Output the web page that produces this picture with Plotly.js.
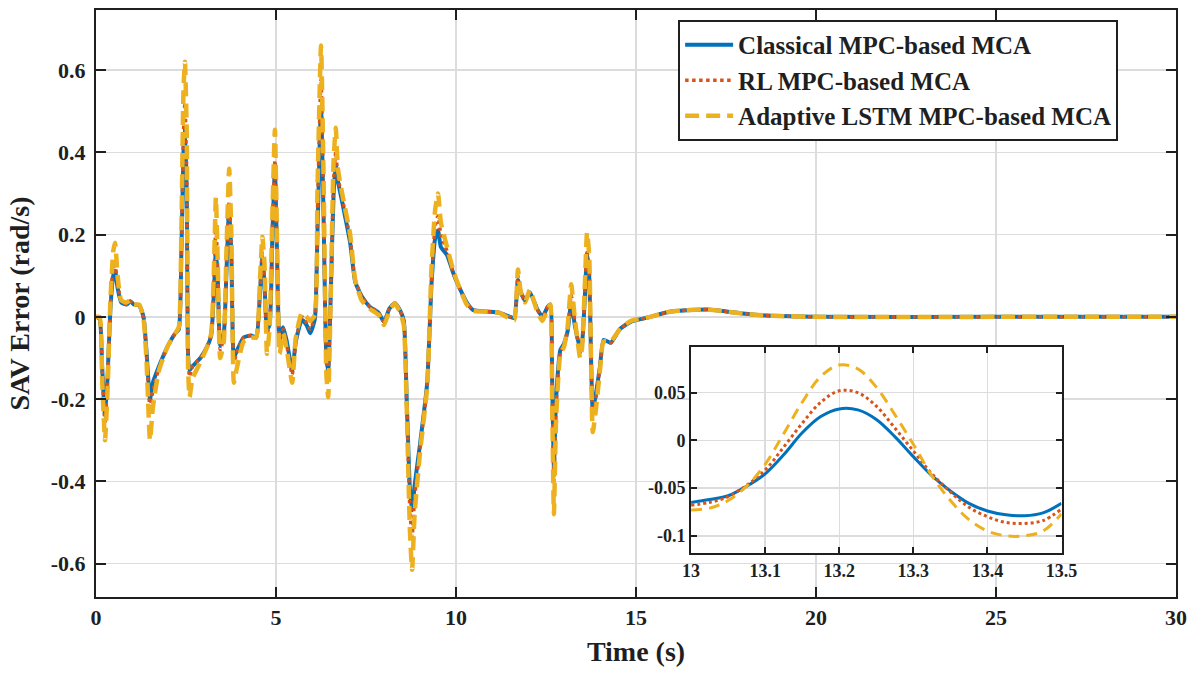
<!DOCTYPE html>
<html>
<head>
<meta charset="utf-8">
<script src="https://cdn.plot.ly/plotly-3.0.1.min.js"></script>
<style>
  html, body { margin: 0; padding: 0; background: #ffffff; }
  #chart { width: 1196px; height: 680px; }
</style>
</head>
<body>
<div id="chart"></div>
<script>
// Time base (s) shared by the three SAV error series
const time = [
  0.00, 0.10, 0.17, 0.25, 0.32, 0.40, 0.48, 0.53, 0.60, 0.70,
  0.85, 0.95, 1.05, 1.20, 1.32, 1.40, 1.50, 1.58, 1.75, 2.00,
  2.20, 2.30, 2.37, 2.43, 2.47, 2.52, 2.56, 2.60, 2.68, 2.90,
  3.10, 3.20, 3.27, 3.33, 3.38, 3.45, 3.55, 3.62, 3.70, 3.76,
  3.83, 3.90, 4.10, 4.30, 4.45, 4.55, 4.62, 4.68, 4.75, 4.82,
  4.90, 4.97, 5.03, 5.10, 5.20, 5.30, 5.45, 5.55, 5.72, 5.85,
  5.95, 6.08, 6.15, 6.25, 6.32, 6.40, 6.45, 6.52, 6.60, 6.66,
  6.72, 6.86, 7.06, 7.20, 7.38, 7.60, 7.85, 8.00, 8.15, 8.30,
  8.45, 8.55, 8.63, 8.72, 8.78, 8.85, 9.00, 9.20, 9.32, 9.42,
  9.50, 9.58, 9.75, 9.95, 10.10, 10.30, 10.47, 10.85, 11.20, 11.50,
  11.62, 11.72, 11.80, 11.92, 12.05, 12.25, 12.40, 12.55, 12.62, 12.67,
  12.72, 12.78, 12.90, 13.00, 13.10, 13.20, 13.30, 13.45, 13.50, 13.58,
  13.64, 13.70, 13.80, 13.88, 14.00, 14.10, 14.30, 14.55, 14.85, 15.40,
  15.90, 16.40, 17.00, 17.60, 18.30, 19.00, 20.00, 25.00, 30.00
];

// Classical MPC-based MCA (rad/s)
const classicalErr = [
  0.000, -0.005, -0.120, -0.240, -0.150, 0.020, 0.100, 0.112, 0.070, 0.035,
  0.030, 0.038, 0.030, 0.028, 0.000, -0.080, -0.200, -0.160, -0.120, -0.070,
  -0.040, -0.030, 0.150, 0.400, 0.460, 0.300, -0.100, -0.130, -0.120, -0.100,
  -0.070, -0.045, 0.050, 0.160, 0.100, -0.070, -0.040, 0.100, 0.270, 0.150,
  -0.100, -0.085, -0.050, -0.045, -0.050, 0.050, 0.145, 0.080, -0.030, -0.020,
  0.200, 0.360, 0.150, -0.055, -0.025, -0.060, -0.130, -0.060, -0.007, -0.020,
  -0.040, -0.005, 0.200, 0.510, 0.250, -0.100, -0.130, 0.050, 0.300, 0.370,
  0.330, 0.270, 0.180, 0.085, 0.050, 0.025, 0.010, -0.012, 0.020, 0.033,
  0.015, -0.010, -0.200, -0.420, -0.470, -0.410, -0.310, -0.160, 0.080, 0.190,
  0.210, 0.170, 0.150, 0.100, 0.070, 0.035, 0.017, 0.013, 0.010, 0.000,
  -0.003, 0.090, 0.060, 0.040, 0.060, 0.020, 0.000, 0.025, 0.030, -0.150,
  -0.365, -0.200, -0.080, -0.065, -0.035, 0.033, -0.020, -0.079, -0.066, 0.050,
  0.155, 0.100, -0.225, -0.190, -0.120, -0.056, -0.063, -0.030, -0.012, 0.000,
  0.012, 0.016, 0.018, 0.012, 0.005, 0.002, 0.000, 0.000, 0.000
];

// RL MPC-based MCA (rad/s)
const rlErr = [
  0.000, -0.005, -0.130, -0.260, -0.160, 0.030, 0.120, 0.125, 0.080, 0.040,
  0.030, 0.038, 0.030, 0.028, -0.005, -0.090, -0.220, -0.180, -0.125, -0.070,
  -0.040, -0.030, 0.160, 0.450, 0.520, 0.350, -0.110, -0.145, -0.120, -0.100,
  -0.070, -0.045, 0.070, 0.225, 0.120, -0.080, -0.050, 0.120, 0.280, 0.160,
  -0.110, -0.090, -0.050, -0.045, -0.050, 0.060, 0.155, 0.090, -0.040, -0.020,
  0.220, 0.380, 0.160, -0.060, -0.030, -0.070, -0.140, -0.060, 0.000, -0.015,
  -0.030, 0.000, 0.250, 0.580, 0.280, -0.110, -0.140, 0.060, 0.330, 0.400,
  0.340, 0.280, 0.190, 0.090, 0.050, 0.025, 0.010, -0.012, 0.020, 0.033,
  0.015, -0.010, -0.210, -0.470, -0.535, -0.440, -0.320, -0.165, 0.090, 0.220,
  0.245, 0.200, 0.160, 0.100, 0.070, 0.035, 0.017, 0.013, 0.010, 0.000,
  -0.005, 0.100, 0.060, 0.040, 0.060, 0.020, -0.005, 0.025, 0.030, -0.170,
  -0.400, -0.220, -0.085, -0.068, -0.031, 0.053, -0.010, -0.087, -0.072, 0.060,
  0.160, 0.120, -0.240, -0.200, -0.120, -0.060, -0.063, -0.030, -0.012, 0.000,
  0.012, 0.016, 0.018, 0.012, 0.005, 0.002, 0.000, 0.000, 0.000
];

// Adaptive LSTM MPC-based MCA (rad/s)
const lstmErr = [
  0.000, 0.000, -0.150, -0.300, -0.180, 0.040, 0.160, 0.180, 0.100, 0.040,
  0.035, 0.040, 0.030, 0.030, -0.005, -0.100, -0.300, -0.220, -0.130, -0.070,
  -0.040, -0.025, 0.200, 0.550, 0.620, 0.450, -0.130, -0.195, -0.150, -0.110,
  -0.070, -0.040, 0.100, 0.290, 0.140, -0.100, -0.060, 0.150, 0.360, 0.200,
  -0.160, -0.130, -0.060, -0.050, -0.050, 0.080, 0.195, 0.130, -0.090, -0.030,
  0.250, 0.455, 0.180, -0.090, -0.040, -0.080, -0.160, -0.050, 0.010, 0.000,
  -0.010, 0.005, 0.300, 0.660, 0.350, -0.140, -0.195, 0.050, 0.380, 0.460,
  0.360, 0.290, 0.200, 0.090, 0.040, 0.020, 0.005, -0.020, 0.015, 0.033,
  0.010, -0.020, -0.220, -0.520, -0.615, -0.480, -0.330, -0.170, 0.120, 0.260,
  0.300, 0.230, 0.170, 0.105, 0.070, 0.030, 0.015, 0.013, 0.010, -0.005,
  -0.008, 0.115, 0.060, 0.035, 0.065, 0.015, -0.010, 0.020, 0.030, -0.200,
  -0.480, -0.250, -0.090, -0.073, -0.024, 0.079, -0.003, -0.100, -0.077, 0.080,
  0.205, 0.150, -0.280, -0.230, -0.130, -0.060, -0.060, -0.030, -0.010, 0.000,
  0.012, 0.016, 0.018, 0.012, 0.005, 0.002, 0.000, 0.000, 0.000
];

// Close-up window 13.0 - 13.5 s
const zoomTime = [
  13.000, 13.025, 13.050, 13.075, 13.100, 13.125, 13.150, 13.175, 13.200, 13.225,
  13.250, 13.275, 13.300, 13.325, 13.350, 13.375, 13.400, 13.425, 13.450, 13.475, 13.500
];
const zoomClassical = [
  -0.065, -0.062, -0.058, -0.048, -0.035, -0.015, 0.008, 0.025, 0.033, 0.032,
  0.022, 0.004, -0.017, -0.037, -0.053, -0.066, -0.074, -0.078, -0.079, -0.076, -0.066
];
const zoomRl = [
  -0.068, -0.065, -0.059, -0.047, -0.031, -0.007, 0.018, 0.040, 0.052, 0.050,
  0.036, 0.013, -0.011, -0.035, -0.054, -0.070, -0.080, -0.086, -0.087, -0.084, -0.072
];
const zoomLstm = [
  -0.073, -0.071, -0.063, -0.048, -0.025, 0.007, 0.040, 0.067, 0.079, 0.075,
  0.056, 0.027, -0.004, -0.037, -0.063, -0.083, -0.095, -0.100, -0.100, -0.095, -0.077
];

const seriesNames = ['Classical MPC-based MCA', 'RL MPC-based MCA', 'Adaptive LSTM MPC-based MCA'];

const mainTickVals = [-0.6, -0.4, -0.2, 0, 0.2, 0.4, 0.6];
const mainTickText = ['-0.6', '-0.4', '-0.2', '0', '0.2', '0.4', '0.6'];
const zoomYTickVals = [-0.1, -0.05, 0, 0.05];
const zoomYTickText = ['-0.1', '-0.05', '0', '0.05'];
const zoomXTickVals = [13, 13.1, 13.2, 13.3, 13.4, 13.5];
const zoomXTickText = ['13', '13.1', '13.2', '13.3', '13.4', '13.5'];

const BLUE = '#0072BD', ORANGE = '#D95319', GOLD = '#EDB120';
const INK = '#1f1f1f', GRID = '#dcdcdc';
const FONT = '"Liberation Serif"';

const traces = [
  { x: time, y: classicalErr, name: seriesNames[0], type: 'scatter', mode: 'lines',
    line: { color: BLUE, width: 4, shape: 'spline', smoothing: 0.5 } },
  { x: time, y: rlErr, name: seriesNames[1], type: 'scatter', mode: 'lines',
    line: { color: ORANGE, width: 3.5, dash: 'dot', shape: 'spline', smoothing: 0.5 } },
  { x: time, y: lstmErr, name: seriesNames[2], type: 'scatter', mode: 'lines',
    line: { color: GOLD, width: 4.5, dash: '14px,7px', shape: 'spline', smoothing: 0.5 } },
  { x: zoomTime, y: zoomClassical, xaxis: 'x2', yaxis: 'y2', showlegend: false, type: 'scatter', mode: 'lines',
    line: { color: BLUE, width: 3, shape: 'spline', smoothing: 1 } },
  { x: zoomTime, y: zoomRl, xaxis: 'x2', yaxis: 'y2', showlegend: false, type: 'scatter', mode: 'lines',
    line: { color: ORANGE, width: 3, dash: 'dot', shape: 'spline', smoothing: 1 } },
  { x: zoomTime, y: zoomLstm, xaxis: 'x2', yaxis: 'y2', showlegend: false, type: 'scatter', mode: 'lines',
    line: { color: GOLD, width: 3, dash: '11px,7px', shape: 'spline', smoothing: 1 } }
];

const boxAxis = {
  showline: true, linecolor: INK, linewidth: 2, mirror: 'ticks',
  ticks: 'inside', tickcolor: INK, tickwidth: 2,
  showgrid: true, gridcolor: GRID, gridwidth: 1.5, zeroline: false
};

const layout = {
  width: 1196, height: 680,
  margin: { l: 96, r: 20, t: 10, b: 83 },
  paper_bgcolor: '#ffffff', plot_bgcolor: '#ffffff',
  font: { family: FONT, weight: 'bold', color: INK, size: 22 },
  showlegend: true,
  legend: {
    x: 0.539, y: 0.983, xanchor: 'left', yanchor: 'top',
    bgcolor: '#ffffff', bordercolor: INK, borderwidth: 2,
    font: { family: FONT, weight: 'bold', size: 25, color: INK },
    itemwidth: 48, tracegroupgap: 0
  },
  xaxis: Object.assign({}, boxAxis, {
    domain: [0, 1], range: [0, 30], tickvals: [0, 5, 10, 15, 20, 25, 30], ticklen: 10,
    tickfont: { family: FONT, weight: 'bold', size: 22 },
    title: { text: 'Time (s)', font: { family: FONT, weight: 'bold', size: 28 }, standoff: 12 }
  }),
  yaxis: Object.assign({}, boxAxis, {
    domain: [0, 1], range: [-0.681, 0.746], tickvals: mainTickVals, ticktext: mainTickText, ticklen: 10,
    ticklabelstandoff: 4,
    tickfont: { family: FONT, weight: 'bold', size: 22 },
    title: { text: 'SAV Error (rad/s)', font: { family: FONT, weight: 'bold', size: 28 }, standoff: 13 }
  }),
  xaxis2: Object.assign({}, boxAxis, {
    anchor: 'y2', domain: [0.551, 0.894], range: [13, 13.5],
    tickvals: zoomXTickVals, ticktext: zoomXTickText, ticklen: 6,
    tickfont: { family: FONT, weight: 'bold', size: 18 }
  }),
  yaxis2: Object.assign({}, boxAxis, {
    anchor: 'x2', domain: [0.075, 0.426], range: [-0.118, 0.098],
    tickvals: zoomYTickVals, ticktext: zoomYTickText, ticklen: 6,
    tickfont: { family: FONT, weight: 'bold', size: 18 }
  })
};

Plotly.newPlot('chart', traces, layout, { displayModeBar: false, staticPlot: true });
</script>
</body>
</html>
